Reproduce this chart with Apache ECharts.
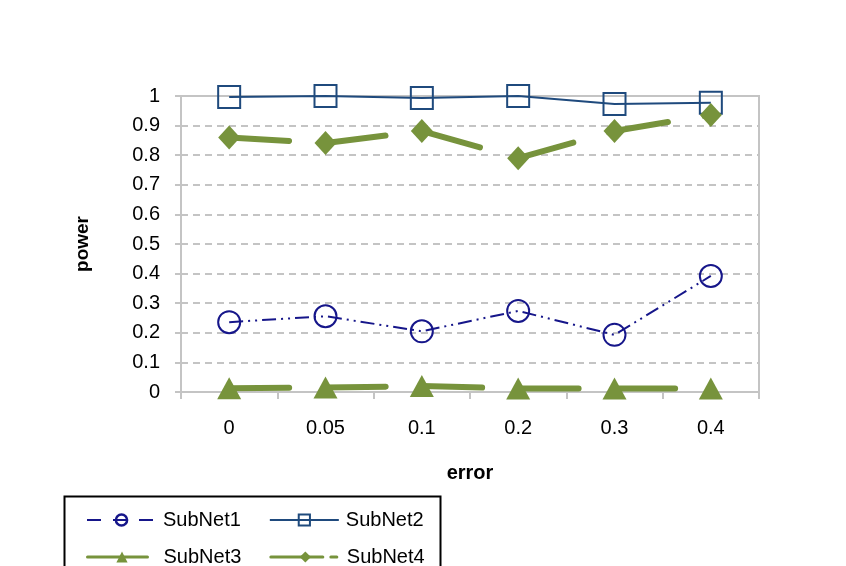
<html>
<head>
<meta charset="utf-8">
<title>power vs error</title>
<script src="https://cdn.jsdelivr.net/npm/echarts@6/dist/echarts.min.js"></script>
<style>
  body { margin: 0; background: #fff; }
  #main { width: 846px; height: 566px; }
</style>
</head>
<body>
<div id="main"></div>
<script>
var errors = ['0', '0.05', '0.1', '0.2', '0.3', '0.4']
var subNet1 = [0.236, 0.256, 0.205, 0.274, 0.193, 0.392]
var subNet2 = [0.997, 1.0, 0.993, 1.0, 0.973, 0.977]
var subNet3 = [0.013, 0.015, 0.02, 0.012, 0.012, 0.012]
var subNet4 = [0.860, 0.841, 0.882, 0.790, 0.882, 0.936]

var navy = '#16168a'
var steel = '#1f4a7d'
var olive = '#77933c'
var gridGray = '#c4c4c4'
var font = 'Liberation Sans, Arial, sans-serif'

var myChart = echarts.init(document.getElementById('main'))

var option = {
  backgroundColor: '#fff',
  animation: false,
  textStyle: { fontFamily: font },
  grid: {
    left: 181, top: 96, width: 578, height: 296,
    show: true, borderColor: gridGray, borderWidth: 2
  },
  legend: [{
    left: 81, top: 505,
    itemWidth: 69, itemHeight: 14, itemGap: 28,
    textStyle: { fontSize: 20, color: '#000', fontFamily: font, padding: [0, 0, 0, 2] },
    data: [
      { name: 'SubNet1', lineStyle: { type: [14, 12] }, itemStyle: { borderWidth: 2.5 } },
      { name: 'SubNet2' }
    ]
  }, {
    left: 81, top: 542,
    itemWidth: 69, itemHeight: 14, itemGap: 28,
    textStyle: { fontSize: 20, color: '#000', fontFamily: font, padding: [0, 0, 0, 2] },
    data: [
      { name: 'SubNet3', lineStyle: { width: 3 } },
      { name: 'SubNet4', lineStyle: { width: 3, type: [52, 8, 6, 10] } }
    ]
  }],
  graphic: [{
    type: 'rect',
    left: 62, top: 494,
    shape: { width: 376, height: 110 },
    style: { fill: 'none', stroke: '#000', lineWidth: 2 }
  }],
  xAxis: {
    type: 'category',
    data: errors,
    name: 'error',
    nameLocation: 'middle',
    nameGap: 71,
    nameTextStyle: { fontSize: 20, fontWeight: 'bold', color: '#000' },
    axisLine: { lineStyle: { color: gridGray, width: 2 } },
    axisTick: { show: true, length: 7, lineStyle: { color: gridGray, width: 2 } },
    axisLabel: { fontSize: 20, color: '#000', margin: 26 },
    splitLine: { show: false }
  },
  yAxis: {
    type: 'value',
    min: 0, max: 1, interval: 0.1,
    name: 'power',
    nameLocation: 'middle',
    nameGap: 89,
    nameTextStyle: { fontSize: 19, fontWeight: 'bold', color: '#000' },
    axisLine: { show: true, lineStyle: { color: gridGray, width: 2 } },
    axisTick: { show: true, length: 6, lineStyle: { color: gridGray, width: 2 } },
    axisLabel: { fontSize: 20, color: '#000', margin: 21 },
    splitLine: { show: true, lineStyle: { color: gridGray, width: 2, type: [7, 5] } }
  },
  series: [{
    name: 'SubNet1',
    type: 'line',
    data: subNet1,
    symbol: 'circle',
    symbolSize: 22,
    itemStyle: { color: 'rgba(255,255,255,0)', borderColor: navy, borderWidth: 2 },
    lineStyle: { color: navy, width: 2, type: [14, 5, 2, 5, 2, 5] }
  }, {
    name: 'SubNet2',
    type: 'line',
    data: subNet2,
    symbol: 'rect',
    symbolSize: 22,
    itemStyle: { color: 'rgba(255,255,255,0)', borderColor: steel, borderWidth: 2 },
    lineStyle: { color: steel, width: 2 }
  }, {
    name: 'SubNet3',
    type: 'line',
    data: subNet3,
    symbol: 'triangle',
    symbolSize: [24, 22],
    itemStyle: { color: olive },
    lineStyle: { color: olive, width: 6, cap: 'round', type: [60, 36.5] }
  }, {
    name: 'SubNet4',
    type: 'line',
    data: subNet4,
    symbol: 'diamond',
    symbolSize: [22, 24],
    itemStyle: { color: olive },
    lineStyle: { color: olive, width: 6, cap: 'round', type: [60, 37] }
  }]
}

myChart.setOption(option)
</script>
</body>
</html>
